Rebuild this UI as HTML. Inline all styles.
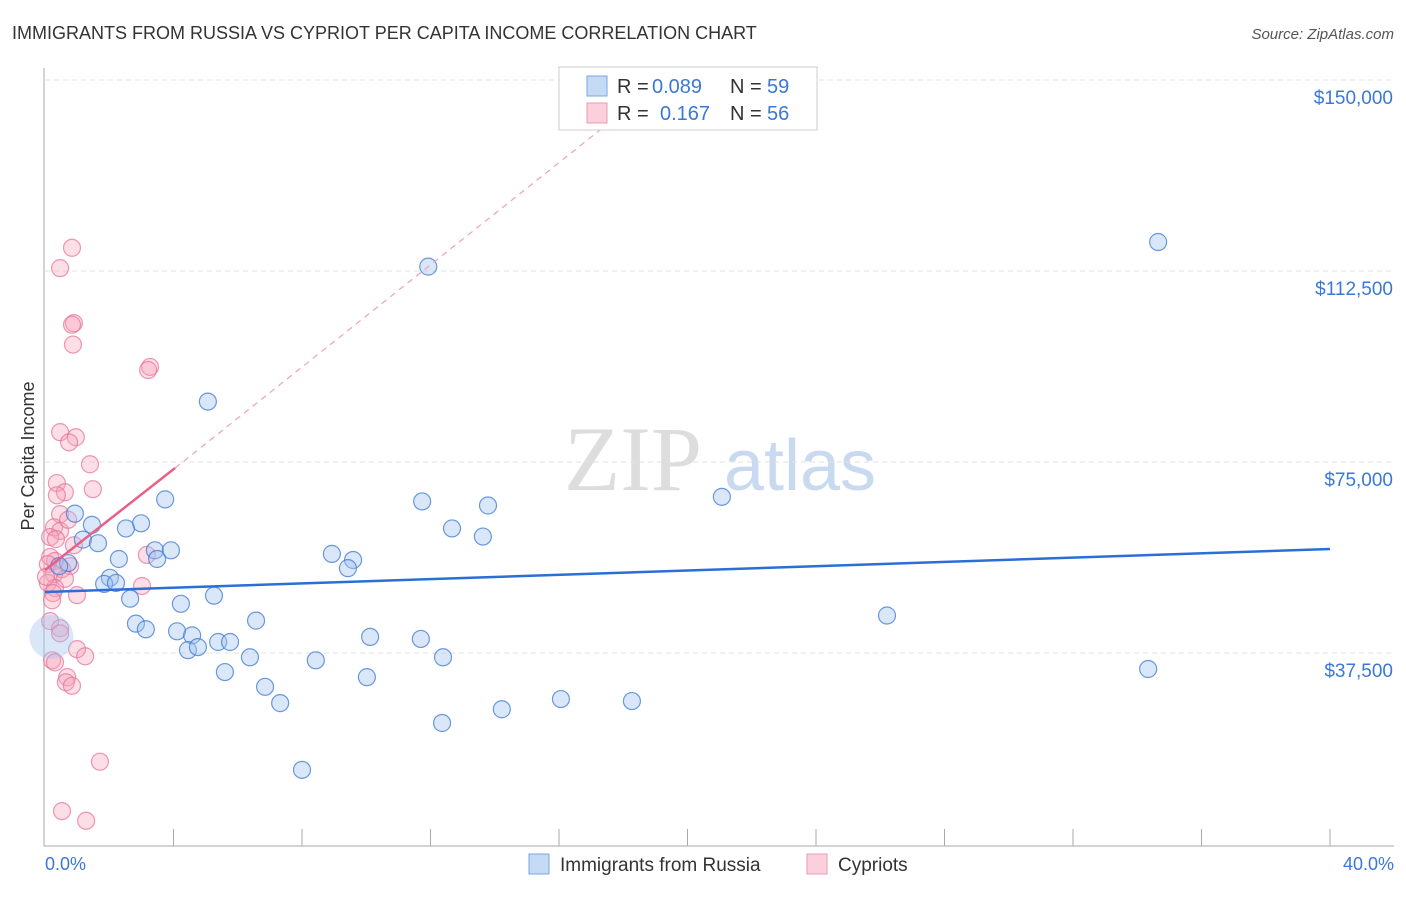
<!DOCTYPE html>
<html><head><meta charset="utf-8"><style>
body{margin:0;background:#fff;font-family:"Liberation Sans",sans-serif;}
</style></head><body>
<svg width="1406" height="892" xmlns="http://www.w3.org/2000/svg" font-family="Liberation Sans, sans-serif">
<text x="12" y="39" font-size="18" fill="#333">IMMIGRANTS FROM RUSSIA VS CYPRIOT PER CAPITA INCOME CORRELATION CHART</text>
<text x="1394" y="39" font-size="15" fill="#555" font-style="italic" text-anchor="end">Source: ZipAtlas.com</text>
<g><text x="633" y="490" font-size="92" fill="#ddd" font-family="Liberation Serif, serif" text-anchor="middle">ZIP</text><text x="800" y="490" font-size="72" fill="#c9daf0" text-anchor="middle">atlas</text></g>
<g id="grid"></g>
<line x1="44" y1="68" x2="44" y2="846" stroke="#aaa"/>
<line x1="44" y1="846" x2="1394" y2="846" stroke="#aaa"/>
<g id="xticks"></g>
<text x="34" y="456" font-size="18" fill="#333" transform="rotate(-90 34 456)" text-anchor="middle">Per Capita Income</text>
<text x="45" y="870" font-size="18" fill="#3a78d8">0.0%</text>
<text x="1394" y="870" font-size="18" fill="#3a78d8" text-anchor="end">40.0%</text>
<g id="pts"></g>
<g id="lines"></g>
<g font-size="20">
<rect x="559" y="67" width="258" height="63" fill="#fff" stroke="#ccc"/>
<rect x="587" y="76" width="20" height="20" fill="#c5daf5" stroke="#7aa7e0"/>
<rect x="587" y="103" width="20" height="20" fill="#fbd0dc" stroke="#ee9ab2"/>
<text x="617" y="93" fill="#333">R =</text><text x="652" y="93" fill="#3a78d8">0.089</text>
<text x="730" y="93" fill="#333">N =</text><text x="767" y="93" fill="#3a78d8">59</text>
<text x="617" y="120" fill="#333">R =</text><text x="660" y="120" fill="#3a78d8">0.167</text>
<text x="730" y="120" fill="#333">N =</text><text x="767" y="120" fill="#3a78d8">56</text>
</g>
<g>
<rect x="529" y="854" width="20" height="20" fill="#c5daf5" stroke="#7aa7e0"/>
<text x="560" y="871" font-size="19" fill="#333">Immigrants from Russia</text>
<rect x="807" y="854" width="20" height="20" fill="#fbd0dc" stroke="#ee9ab2"/>
<text x="838" y="871" font-size="19" fill="#333">Cypriots</text>
</g>
</svg>
<script>
const yTicks=[37500,75000,112500,150000];
const yTickLabels=["$37,500","$75,000","$112,500","$150,000"];
const blueX=[34.65,11.93,5.07,3.74,21.07,11.74,13.79,0.93,1.46,2.99,2.52,12.67,13.63,1.18,1.65,3.42,3.92,3.49,8.93,9.59,9.43,2.30,0.72,0.44,2.02,1.84,2.21,2.65,5.26,4.23,26.21,6.57,2.83,3.14,4.11,4.58,5.39,5.76,4.45,4.76,10.12,11.70,6.38,8.43,12.39,5.60,34.34,10.02,6.85,7.32,16.06,18.27,14.22,12.36,8.00,0.20];
const blueY=[118190,113360,86860,67660,68160,67260,66460,64860,62660,62960,61960,61960,60360,59760,59060,57660,57660,55960,56960,55760,54160,55960,55160,54560,52260,51060,51260,48160,48760,47160,44860,43860,43260,42160,41760,40960,39660,39660,38060,38660,40660,40260,36660,36060,36660,33760,34360,32760,30860,27660,28460,28060,26460,23760,14560,40660];
const pinkX=[0.84,0.47,0.90,0.84,0.87,3.27,3.21,0.47,0.96,0.75,1.40,1.49,0.37,0.62,0.37,0.47,0.28,0.47,0.16,0.90,0.16,0.31,0.09,0.78,0.53,0.28,0.62,0.09,0.31,0.25,0.996,3.17,3.02,0.16,0.47,0.47,0.996,1.25,0.22,0.31,0.69,0.65,0.84,1.71,0.53,1.28,0.03,0.22,0.34,0.72];
const pinkY=[117060,113060,102260,101960,98060,93660,93060,80860,79860,78860,74560,69660,70860,69060,68460,64760,62160,61460,60260,58660,56360,55560,54960,54560,53960,52960,52060,51260,50260,49260,48860,56760,50660,43760,42360,41360,38260,36860,36060,35660,32760,31760,31060,16160,6460,4560,52460,47860,59860,63660];
const blueTrendX=[0,40], blueTrendY=[49480,57920];
const pinkTrendX=[0,4.05], pinkTrendY=[53800,73820];
const pinkDashX=[4.05,17.59], pinkDashY=[73820,141760];
const X=v=>45+v/40*1285, Y=v=>844-v/37500*191;
const NS="http://www.w3.org/2000/svg";
function mk(t,a,p){const e=document.createElementNS(NS,t);for(const k in a)e.setAttribute(k,a[k]);document.getElementById(p).appendChild(e);return e;}
yTicks.forEach((t,i)=>{
 const l=mk('line',{x1:45,x2:1393,y1:Y(t),y2:Y(t),stroke:'#e2e2e2','stroke-dasharray':'5,4'},'grid');
 
 
 const tx=mk('text',{x:1393,y:Y(t)+24,'font-size':19,fill:'#3a78d8','text-anchor':'end'},'grid');
 tx.textContent=yTickLabels[i];
 
 
});
for(let i=1;i<=10;i++){
 const l=mk('line',{x1:X(i*4),x2:X(i*4),y1:829,y2:846,stroke:'#aaa'},'xticks');
 
 
}
pinkX.forEach((x,i)=>{
 const c=mk('circle',{cx:X(x),cy:Y(pinkY[i]),r:8.5,fill:'rgba(245,160,185,0.35)',stroke:'rgba(230,110,150,0.7)','stroke-width':1.2},'pts');
 
 
});
blueX.forEach((x,i)=>{
 const big=i===blueX.length-1;
 const c=mk('circle',{cx:X(x),cy:Y(blueY[i]),r:big?22:8.5,fill:'rgba(160,195,240,0.4)',stroke:big?'none':'rgba(60,120,210,0.75)','stroke-width':1.2},'pts');
 
 
});
const bl=mk('line',{x1:X(blueTrendX[0]),y1:Y(blueTrendY[0]),x2:X(blueTrendX[1]),y2:Y(blueTrendY[1]),stroke:'#2a6fd6','stroke-width':2.5},'lines');


const pl=mk('line',{x1:X(pinkTrendX[0]),y1:Y(pinkTrendY[0]),x2:X(pinkTrendX[1]),y2:Y(pinkTrendY[1]),stroke:'#e8608a','stroke-width':2.5},'lines');


const pd=mk('line',{x1:X(pinkDashX[0]),y1:Y(pinkDashY[0]),x2:X(pinkDashX[1]),y2:Y(pinkDashY[1]),stroke:'#f0a0b8','stroke-width':1.2,'stroke-dasharray':'6,5'},'lines');


</script>
</body></html>
